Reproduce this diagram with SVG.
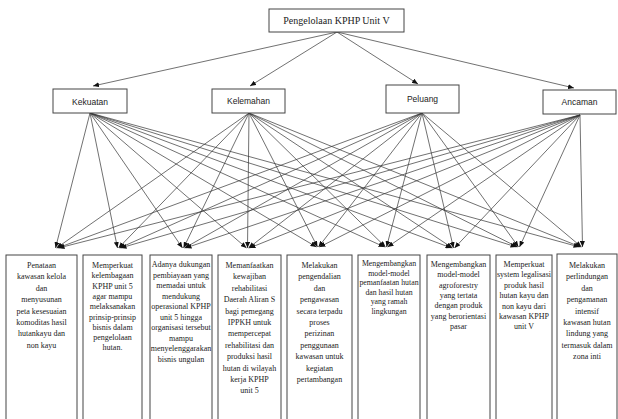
<svg xmlns="http://www.w3.org/2000/svg" width="618" height="419" viewBox="0 0 618 419">
<style>
.bx{fill:#fff;stroke:#444;stroke-width:1}
.t{font-family:"Liberation Serif","Times New Roman",serif;font-size:8px;fill:#222;text-anchor:middle}
.ttl{font-family:"Liberation Serif","Times New Roman",serif;font-size:10px;fill:#222;text-anchor:middle}
.m{font-family:"Liberation Sans",Arial,sans-serif;font-size:8.5px;fill:#222;text-anchor:middle}
.c line{stroke:#333;stroke-width:0.7;marker-end:url(#ah)}
</style>
<defs>
<marker id="ah" markerWidth="6" markerHeight="5" refX="6" refY="2.5" orient="auto" markerUnits="userSpaceOnUse"><path d="M0,0 L6,2.5 L0,5 z" fill="#111"/></marker>
</defs>
<rect width="618" height="419" fill="#fff"/>
<g class="c" id="connectors">
<line x1="337" y1="32" x2="93" y2="86"/>
<line x1="337" y1="32" x2="250" y2="86"/>
<line x1="337" y1="32" x2="418" y2="84"/>
<line x1="337" y1="32" x2="574" y2="88"/>
<line x1="90" y1="113" x2="55.5" y2="248"/>
<line x1="90" y1="113" x2="117.5" y2="248"/>
<line x1="90" y1="113" x2="182.5" y2="248"/>
<line x1="90" y1="113" x2="246.5" y2="248"/>
<line x1="90" y1="113" x2="316.5" y2="247"/>
<line x1="90" y1="113" x2="384.5" y2="247"/>
<line x1="90" y1="113" x2="451.5" y2="248"/>
<line x1="90" y1="113" x2="516.5" y2="247"/>
<line x1="90" y1="113" x2="579.5" y2="247"/>
<line x1="249" y1="113" x2="56.5" y2="248"/>
<line x1="249" y1="113" x2="118.5" y2="248"/>
<line x1="249" y1="113" x2="183.5" y2="248"/>
<line x1="249" y1="113" x2="247.5" y2="248"/>
<line x1="249" y1="113" x2="317.5" y2="247"/>
<line x1="249" y1="113" x2="385.5" y2="247"/>
<line x1="249" y1="113" x2="452.5" y2="248"/>
<line x1="249" y1="113" x2="517.5" y2="247"/>
<line x1="249" y1="113" x2="580.5" y2="247"/>
<line x1="422" y1="113" x2="57.5" y2="248"/>
<line x1="422" y1="113" x2="119.5" y2="248"/>
<line x1="422" y1="113" x2="184.5" y2="248"/>
<line x1="422" y1="113" x2="248.5" y2="248"/>
<line x1="422" y1="113" x2="318.5" y2="247"/>
<line x1="422" y1="113" x2="386.5" y2="247"/>
<line x1="422" y1="113" x2="453.5" y2="248"/>
<line x1="422" y1="113" x2="518.5" y2="247"/>
<line x1="422" y1="113" x2="581.5" y2="247"/>
<line x1="580" y1="115" x2="58.5" y2="248"/>
<line x1="580" y1="115" x2="120.5" y2="248"/>
<line x1="580" y1="115" x2="185.5" y2="248"/>
<line x1="580" y1="115" x2="249.5" y2="248"/>
<line x1="580" y1="115" x2="319.5" y2="247"/>
<line x1="580" y1="115" x2="387.5" y2="247"/>
<line x1="580" y1="115" x2="454.5" y2="248"/>
<line x1="580" y1="115" x2="519.5" y2="247"/>
<line x1="580" y1="115" x2="582.5" y2="247"/>
</g>
<g id="root"><rect class="bx" x="269" y="9" width="135" height="23"/><text class="ttl" x="336.5" y="24">Pengelolaan KPHP Unit V</text></g>
<g id="kekuatan"><rect class="bx" x="53" y="89" width="74" height="24"/><text class="m" x="90" y="104.5">Kekuatan</text></g>
<g id="kelemahan"><rect class="bx" x="212" y="89" width="73" height="24"/><text class="m" x="248.5" y="104">Kelemahan</text></g>
<g id="peluang"><rect class="bx" x="386" y="85" width="73" height="28"/><text class="m" x="422.5" y="102">Peluang</text></g>
<g id="ancaman"><rect class="bx" x="543" y="90" width="73" height="24"/><text class="m" x="579.5" y="105">Ancaman</text></g>
<g id="b1"><rect class="bx" x="6" y="255" width="71" height="180"/>
<text class="t" x="41.5" y="268"><tspan x="41.5">Penataan</tspan><tspan x="41.5" dy="11.4">kawasan kelola</tspan><tspan x="41.5" dy="11.4">dan</tspan><tspan x="41.5" dy="11.4">menyusunan</tspan><tspan x="41.5" dy="11.4">peta kesesuaian</tspan><tspan x="41.5" dy="11.4">komoditas hasil</tspan><tspan x="41.5" dy="11.4">hutankayu dan</tspan><tspan x="41.5" dy="11.4">non kayu</tspan></text></g>
<g id="b2"><rect class="bx" x="83" y="255" width="59" height="180"/>
<text class="t" x="112.5" y="268"><tspan x="112.5">Memperkuat</tspan><tspan x="112.5" dy="10.3">kelembagaan</tspan><tspan x="112.5" dy="10.3">KPHP unit 5</tspan><tspan x="112.5" dy="10.3">agar mampu</tspan><tspan x="112.5" dy="10.3">melaksanakan</tspan><tspan x="112.5" dy="10.3">prinsip-prinsip</tspan><tspan x="112.5" dy="10.3">bisnis dalam</tspan><tspan x="112.5" dy="10.3">pengelolaan</tspan><tspan x="112.5" dy="10.3">hutan.</tspan></text></g>
<g id="b3"><rect class="bx" x="150" y="255" width="62" height="180"/>
<text class="t" x="181" y="267"><tspan x="181">Adanya dukungan</tspan><tspan x="181" dy="10.5">pembiayaan yang</tspan><tspan x="181" dy="10.5">memadai untuk</tspan><tspan x="181" dy="10.5">mendukung</tspan><tspan x="181" dy="10.5">operasional KPHP</tspan><tspan x="181" dy="10.5">unit 5 hingga</tspan><tspan x="181" dy="10.5">organisasi tersebut</tspan><tspan x="181" dy="10.5">mampu</tspan><tspan x="181" dy="10.5">menyelenggarakan</tspan><tspan x="181" dy="10.5">bisnis ungulan</tspan></text></g>
<g id="b4"><rect class="bx" x="218" y="255" width="63" height="180"/>
<text class="t" x="249.5" y="268"><tspan x="249.5">Memanfaatkan</tspan><tspan x="249.5" dy="11.4">kewajiban</tspan><tspan x="249.5" dy="11.4">rehabilitasi</tspan><tspan x="249.5" dy="11.4">Daerah Aliran S</tspan><tspan x="249.5" dy="11.4">bagi pemegang</tspan><tspan x="249.5" dy="11.4">IPPKH untuk</tspan><tspan x="249.5" dy="11.4">mempercepat</tspan><tspan x="249.5" dy="11.4">rehabilitasi dan</tspan><tspan x="249.5" dy="11.4">produksi hasil</tspan><tspan x="249.5" dy="11.4">hutan di wilayah</tspan><tspan x="249.5" dy="11.4">kerja KPHP</tspan><tspan x="249.5" dy="11.4">unit 5</tspan></text></g>
<g id="b5"><rect class="bx" x="287" y="255" width="65" height="180"/>
<text class="t" x="319.5" y="268"><tspan x="319.5">Melakukan</tspan><tspan x="319.5" dy="11.4">pengendalian</tspan><tspan x="319.5" dy="11.4">dan</tspan><tspan x="319.5" dy="11.4">pengawasan</tspan><tspan x="319.5" dy="11.4">secara terpadu</tspan><tspan x="319.5" dy="11.4">proses</tspan><tspan x="319.5" dy="11.4">perizinan</tspan><tspan x="319.5" dy="11.4">penggunaan</tspan><tspan x="319.5" dy="11.4">kawasan untuk</tspan><tspan x="319.5" dy="11.4">kegiatan</tspan><tspan x="319.5" dy="11.4">pertambangan</tspan></text></g>
<g id="b6"><rect class="bx" x="358" y="255" width="62" height="180"/>
<text class="t" x="389" y="266" style="font-size:7.8px"><tspan x="389">Mengembangkan</tspan><tspan x="389" dy="9.5">model-model</tspan><tspan x="389" dy="9.5">pemanfaatan hutan</tspan><tspan x="389" dy="9.5">dan hasil hutan</tspan><tspan x="389" dy="9.5">yang ramah</tspan><tspan x="389" dy="9.5">lingkungan</tspan></text></g>
<g id="b7"><rect class="bx" x="427" y="255" width="63" height="180"/>
<text class="t" x="458.5" y="267"><tspan x="458.5">Mengembangkan</tspan><tspan x="458.5" dy="10.3">model-model</tspan><tspan x="458.5" dy="10.3">agroforestry</tspan><tspan x="458.5" dy="10.3">yang tertata</tspan><tspan x="458.5" dy="10.3">dengan produk</tspan><tspan x="458.5" dy="10.3">yang berorientasi</tspan><tspan x="458.5" dy="10.3">pasar</tspan></text></g>
<g id="b8"><rect class="bx" x="496" y="255" width="56" height="180"/>
<text class="t" x="524" y="267"><tspan x="524">Memperkuat</tspan><tspan x="524" dy="10.4">system legalisasi</tspan><tspan x="524" dy="10.4">produk hasil</tspan><tspan x="524" dy="10.4">hutan kayu dan</tspan><tspan x="524" dy="10.4">non kayu dari</tspan><tspan x="524" dy="10.4">kawasan KPHP</tspan><tspan x="524" dy="10.4">unit V</tspan></text></g>
<g id="b9"><rect class="bx" x="557" y="254" width="60" height="180"/>
<text class="t" x="587" y="268"><tspan x="587">Melakukan</tspan><tspan x="587" dy="11.4">perlindungan</tspan><tspan x="587" dy="11.4">dan</tspan><tspan x="587" dy="11.4">pengamanan</tspan><tspan x="587" dy="11.4">intensif</tspan><tspan x="587" dy="11.4">kawasan hutan</tspan><tspan x="587" dy="11.4">lindung yang</tspan><tspan x="587" dy="11.4">termasuk dalam</tspan><tspan x="587" dy="11.4">zona inti</tspan></text></g>
</svg>
